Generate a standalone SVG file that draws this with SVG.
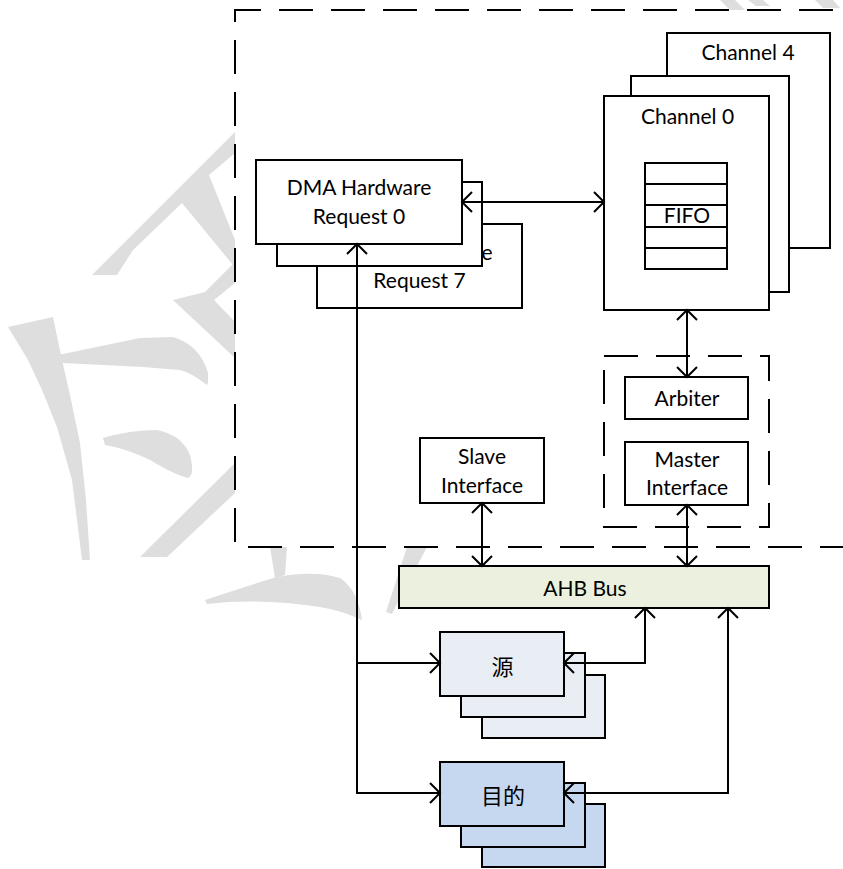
<svg xmlns="http://www.w3.org/2000/svg" width="843" height="869" viewBox="0 0 843 869">
<style>
.box{fill:#fff;stroke:#000;stroke-width:2}
.src{fill:#e9edf4;stroke:#000;stroke-width:2}
.dst{fill:#c6d8ef;stroke:#000;stroke-width:2}
.bus{fill:#ebf1de;stroke:#000;stroke-width:2}
.dash{fill:none;stroke:#000;stroke-width:2;stroke-dasharray:34 18}
.ln{fill:none;stroke:#000;stroke-width:2}
.t{font-family:Lato,"Liberation Sans",sans-serif;font-size:21px;fill:#000;text-anchor:middle}
.cjk{font-family:"Noto Sans CJK SC","Noto Sans CJK TC",sans-serif;font-size:22px;fill:#000;text-anchor:middle;dominant-baseline:central}
.wm{fill:#dedede}
</style>
<defs>
<marker id="ah" viewBox="-12 -12 24 24" markerWidth="24" markerHeight="24" markerUnits="userSpaceOnUse" refX="0" refY="0" orient="auto-start-reverse">
<path d="M-10,-10 L0,0 L-10,10" fill="none" stroke="#000" stroke-width="2"/>
</marker>
</defs>
<rect width="843" height="869" fill="#fff"/>
<g id="watermark">
<polygon class="wm" points="235,132 92,275 117,275 133,250 182,203 233,265 235,263 235,240 209,175 235,153"/>
<polygon class="wm" points="173,300 205,292 235,262 235,283 214,300 235,322 235,358"/>
<path class="wm" d="M8,327 L53,317 L62,360 L70,395 L80,443 L86,500 L90,560 L82,560 L72,480 L57,427 L42,390 L28,360 Z"/>
<path class="wm" d="M58,355 L140,338 L173,337 Q200,345 208,373 L208,383 L207,385 Q190,372 180,370 L143,367 L62,363 Z"/>
<path class="wm" d="M103,438 Q130,430 157,430 Q182,435 190,455 Q195,475 188,478 Q175,475 150,460 Q125,448 105,445 Z"/>
<polygon class="wm" points="140,557 235,463 235,493 167,557"/>
<polygon class="wm" points="270,547 287,547 285,575 275,578"/>
<path class="wm" d="M205,600 Q250,585 277,577 Q315,570 340,578 Q358,590 362,620 Q340,610 320,607 Q260,598 207,604 Z"/>
<polygon class="wm" points="407,547 427,547 399,600 392,614 386,612"/>
<polygon class="wm" points="720,0 735,0 745,10 730,10"/>
<polygon class="wm" points="748,0 763,0 770,6 756,6"/>
<polygon class="wm" points="815,0 833,0 840,8 823,8"/>
</g>
<g id="dma-boundary">
<path d="M235,18 V10 H870 V547 H235 Z" fill="#fff" stroke="none"/>
<path class="dash" d="M235,18 V10 H870 V547 H235 Z"/>
</g>
<g id="channel-group">
<path class="dash" d="M604,356 H769 V527 H604 Z"/>
</g>
<g id="request7">
<rect class="box" x="317" y="224" width="205" height="84"/>
<text class="t" x="487" y="260">e</text>
<text class="t" x="419.5" y="288">Request 7</text>
</g>
<g id="request-mid">
<rect class="box" x="277" y="182" width="205" height="84"/>
</g>
<g id="request0">
<rect class="box" x="256" y="160" width="206" height="84"/>
<text class="t" x="359" y="195">DMA Hardware</text>
<text class="t" x="359" y="224">Request 0</text>
</g>
<g id="channel4">
<rect class="box" x="667" y="33" width="163" height="215"/>
<text class="t" x="748" y="60">Channel 4</text>
</g>
<g id="channel-mid">
<rect class="box" x="631" y="76" width="158" height="216"/>
</g>
<g id="channel0">
<rect class="box" x="604" y="96" width="165" height="214"/>
<text class="t" x="687.5" y="124">Channel 0</text>
<g id="fifo">
<rect class="box" x="645" y="163" width="82" height="106"/>
<path class="ln" d="M645,184 H727 M645,205 H727 M645,227 H727 M645,248 H727"/>
<text class="t" x="687" y="223">FIFO</text>
</g>
</g>
<g id="arbiter">
<rect class="box" x="625" y="377" width="123" height="42"/>
<text class="t" x="687" y="406">Arbiter</text>
</g>
<g id="master-interface">
<rect class="box" x="625" y="442" width="123" height="63"/>
<text class="t" x="687" y="467">Master</text>
<text class="t" x="687" y="495">Interface</text>
</g>
<g id="slave-interface">
<rect class="box" x="420" y="438" width="124" height="65"/>
<text class="t" x="482" y="464">Slave</text>
<text class="t" x="482" y="493">Interface</text>
</g>
<g id="ahb-bus">
<rect class="bus" x="399" y="566" width="370" height="42"/>
<text class="t" x="585" y="596">AHB Bus</text>
</g>
<g id="source">
<rect class="src" x="482" y="675" width="123" height="63"/>
<rect class="src" x="461" y="653" width="124" height="64"/>
<rect class="src" x="440" y="632" width="124" height="64"/>
<text class="cjk" x="502.5" y="665">源</text>
</g>
<g id="destination">
<rect class="dst" x="482" y="804" width="123" height="63"/>
<rect class="dst" x="461" y="783" width="124" height="64"/>
<rect class="dst" x="440" y="762" width="124" height="64"/>
<text class="cjk" x="503" y="794">目的</text>
</g>
<g id="connectors">
<path class="ln" d="M462,202 H604" marker-start="url(#ah)" marker-end="url(#ah)"/>
<path class="ln" d="M687,310 V377" marker-start="url(#ah)" marker-end="url(#ah)"/>
<path class="ln" d="M482,503 V566" marker-start="url(#ah)" marker-end="url(#ah)"/>
<path class="ln" d="M687,505 V566" marker-start="url(#ah)" marker-end="url(#ah)"/>
<path class="ln" d="M357,244 V793 H440" marker-start="url(#ah)" marker-end="url(#ah)"/>
<path class="ln" d="M357,663 H440" marker-end="url(#ah)"/>
<path class="ln" d="M564,663 H645 V608" marker-start="url(#ah)" marker-end="url(#ah)"/>
<path class="ln" d="M564,793 H728 V608" marker-start="url(#ah)" marker-end="url(#ah)"/>
</g>
</svg>
